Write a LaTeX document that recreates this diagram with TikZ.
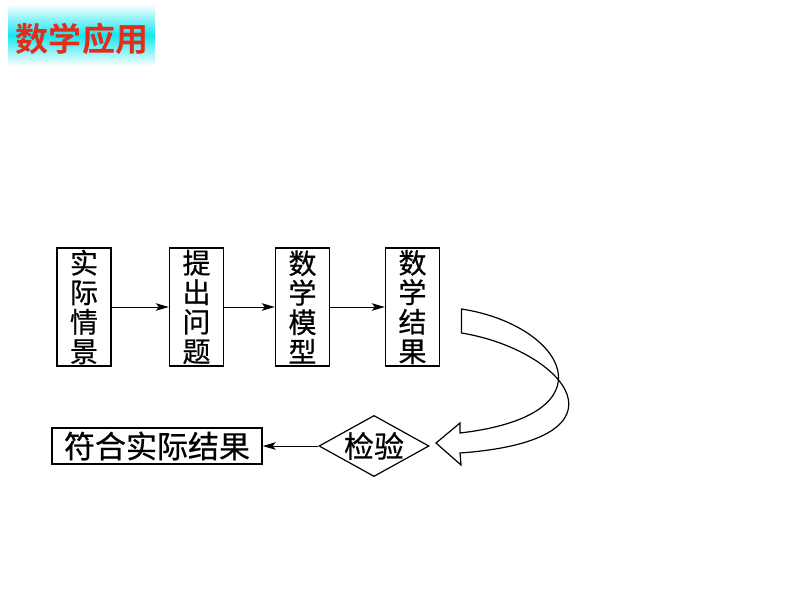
\documentclass[tikz,border=0pt]{standalone}
\usepackage{fontspec}
\newfontfamily\cjk[FakeBold=0.6]{Noto Sans CJK SC}
\newfontfamily\cjkb{Noto Sans CJK SC Bold}
\usetikzlibrary{arrows.meta,shapes.geometric}
\definecolor{titlered}{RGB}{225,45,25}
\definecolor{titlecyan}{RGB}{20,230,240}
\tikzset{
  vbox/.style={draw, line width=1.4pt, minimum width=54pt, minimum height=118pt, inner sep=0pt, align=center,
    font=\cjk\fontsize{28}{29.5}\selectfont},
  flowarrow/.style={line width=1pt, -{Stealth[length=13pt,width=7.5pt,inset=3pt]}},
  hbox/.style={draw, line width=1.4pt, minimum width=210pt, minimum height=36pt, inner sep=0pt,
    font=\cjk\fontsize{31}{32}\selectfont},
  checkdia/.style={draw, diamond, line width=1.2pt, minimum width=108pt, minimum height=60pt, inner sep=0pt, aspect=1.8,
    font=\cjk\fontsize{30}{32}\selectfont},
  bigarrow/.style={line width=1.2pt, fill=white, line join=miter}
}
\begin{document}
\begin{tikzpicture}[x=1pt,y=-1pt]
\useasboundingbox (0,0) rectangle (794,596);
% title
\shade[top color=white, bottom color=white, middle color=titlecyan] (8,4) rectangle (155,66);
\node[text=titlered, font=\cjkb\fontsize{33}{35}\selectfont, inner sep=0pt] (title) at (82,39) {数学应用};
% boxes
\node[vbox] (b1) at (84,307) {实\\际\\情\\景};
\node[vbox] (b2) at (196.5,307) {提\\出\\问\\题};
\node[vbox] (b3) at (302.5,307) {数\\学\\模\\型};
\node[vbox] (b4) at (412.5,307) {数\\学\\结\\果};
\draw[flowarrow] (b1.east) -- (b2.west);
\draw[flowarrow] (b2.east) -- (b3.west);
\draw[flowarrow] (b3.east) -- (b4.west);
% bottom
\node[hbox] (res) at (157,446) {符合实际结果};
\node[checkdia] (chk) at (374,446) {检验};
\draw[flowarrow] (chk.west) -- (res.east);
% big curved arrow
\draw[bigarrow] (461.5,309) .. controls (565,325) and (615,415) .. (460,433)
  -- (460,423) -- (436,443) -- (461,465) -- (460,453)
  .. controls (640,440) and (565,350) .. (461.5,333) -- cycle;
\end{tikzpicture}
\end{document}
